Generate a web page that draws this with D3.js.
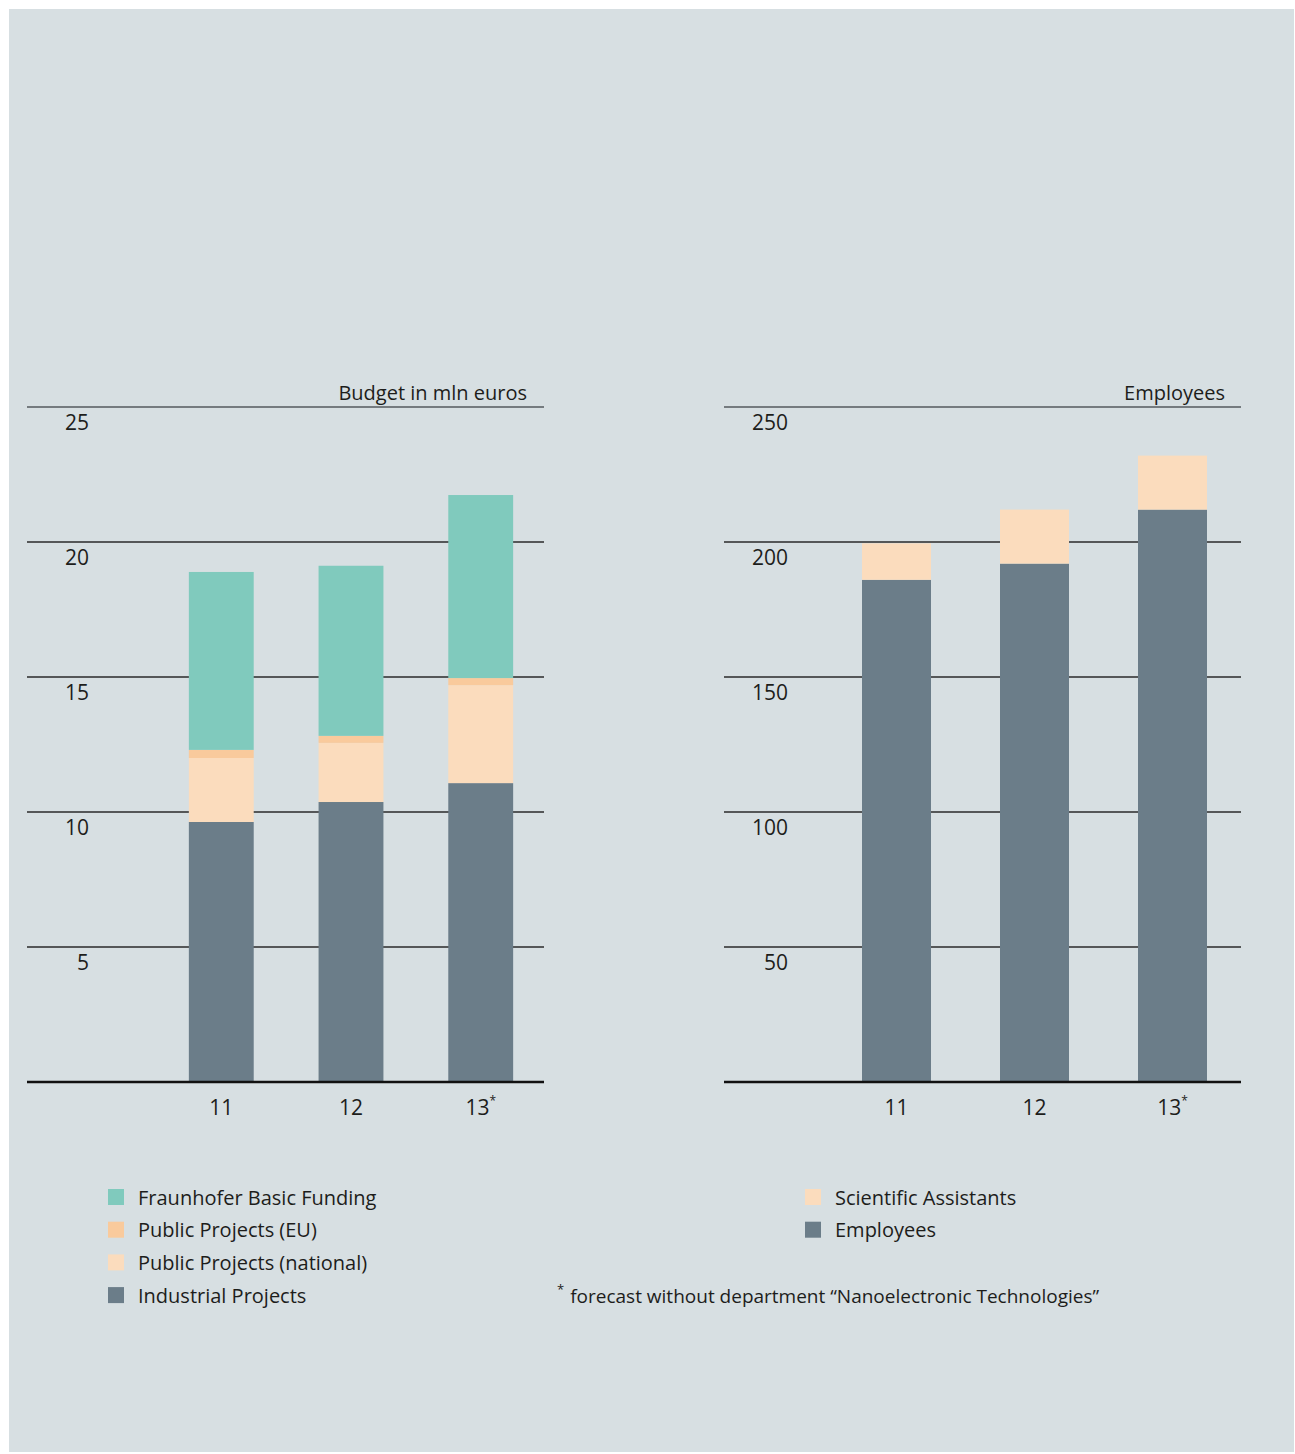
<!DOCTYPE html>
<html>
<head>
<meta charset="utf-8">
<script src="https://cdn.jsdelivr.net/npm/d3@7"></script>
<style>
html,body{margin:0;padding:0;background:#ffffff;}
svg{display:block;}
text{font-family:"Open Sans","Noto Sans",sans-serif;fill:#1d1d1b;}
</style>
</head>
<body>
<svg id="chart" width="1295" height="1454"></svg>
<script>
// ---- Data ----
const years = ["11", "12", "13"];
const yearStars = [false, false, true];

const budgetSeries = ["Industrial Projects", "Public Projects (national)", "Public Projects (EU)", "Fraunhofer Basic Funding"];
const industrialProjects = [9.63, 10.37, 11.07];
const publicNational     = [2.37, 2.19, 3.63];
const publicEU           = [0.30, 0.26, 0.26];
const basicFunding       = [6.59, 6.30, 6.78];
const budgetTicks = [5, 10, 15, 20, 25];

const staffSeries = ["Employees", "Scientific Assistants"];
const employees  = [186, 192, 212];
const scientific = [13.5, 20, 20];
const staffTicks = [50, 100, 150, 200, 250];

const budgetLegend = ["Fraunhofer Basic Funding", "Public Projects (EU)", "Public Projects (national)", "Industrial Projects"];
const staffLegend = ["Scientific Assistants", "Employees"];
const footnote = "forecast without department \u201cNanoelectronic Technologies\u201d";

// ---- Styles ----
const colors = {
  "Fraunhofer Basic Funding": "#80cabd",
  "Public Projects (EU)": "#f9ca9c",
  "Public Projects (national)": "#fbdcbd",
  "Industrial Projects": "#6b7d89",
  "Scientific Assistants": "#fbdcbd",
  "Employees": "#6b7d89"
};

const svg = d3.select("#chart");
svg.append("rect").attr("x", 9).attr("y", 9).attr("width", 1285).attr("height", 1443).attr("fill", "#d7dfe2");

function drawPanel(opt) {
  const g = svg.append("g");
  const y = d3.scaleLinear().domain([0, opt.max]).range([opt.y0, opt.yTop]);
  const x = d3.scaleBand().domain(years).range([opt.bx0, opt.bx1]).paddingInner(opt.padIn).paddingOuter(opt.padOut);

  // gridlines
  g.selectAll("line.grid").data(opt.ticks).join("line")
    .attr("x1", opt.gx0).attr("x2", opt.gx1)
    .attr("y1", d => y(d)).attr("y2", d => y(d))
    .attr("stroke", (d, i) => i === opt.ticks.length - 1 ? "#555a5e" : "#2a2a2a")
    .attr("stroke-width", 1.5);

  // tick labels
  g.selectAll("text.tick").data(opt.ticks).join("text")
    .attr("x", opt.labelX).attr("y", d => y(d) + 23)
    .attr("text-anchor", "end").attr("font-size", 21)
    .text(d => d);

  // title
  g.append("text").attr("x", opt.titleX).attr("y", opt.yTop - 7)
    .attr("text-anchor", "end").attr("font-size", 20).text(opt.title);

  // stacked bars
  const rows = years.map((yr, i) => {
    const r = {year: yr};
    opt.series.forEach((s, k) => r[s] = opt.values[k][i]);
    return r;
  });
  const stacked = d3.stack().keys(opt.series)(rows);
  g.selectAll("g.layer").data(stacked).join("g")
    .attr("fill", d => colors[d.key])
    .selectAll("rect").data(d => d).join("rect")
    .attr("x", d => x(d.data.year))
    .attr("width", x.bandwidth())
    .attr("y", d => y(d[1]))
    .attr("height", d => y(d[0]) - y(d[1]));

  // baseline
  g.append("line").attr("x1", opt.gx0).attr("x2", opt.gx1)
    .attr("y1", y(0)).attr("y2", y(0))
    .attr("stroke", "#111").attr("stroke-width", 2.5);

  // x labels
  const xl = g.selectAll("text.xl").data(years).join("text")
    .attr("x", d => x(d) + x.bandwidth() / 2)
    .attr("y", y(0) + 33)
    .attr("text-anchor", "middle").attr("font-size", 21);
  xl.append("tspan").text(d => d);
  xl.filter((d, i) => yearStars[i]).append("tspan")
    .attr("font-size", 12).attr("dy", -10).text("*");
}

drawPanel({
  max: 25, y0: 1082, yTop: 407, gx0: 27, gx1: 544,
  bx0: 124, bx1: 578, padIn: 0.5, padOut: 0.5,
  ticks: budgetTicks, labelX: 89, titleX: 527, title: "Budget in mln euros",
  series: budgetSeries, values: [industrialProjects, publicNational, publicEU, basicFunding]
});

drawPanel({
  max: 250, y0: 1082, yTop: 407, gx0: 724, gx1: 1241,
  bx0: 793, bx1: 1276, padIn: 0.5, padOut: 0.5,
  ticks: staffTicks, labelX: 788, titleX: 1225, title: "Employees",
  series: staffSeries, values: [employees, scientific]
});

// legends
function legend(items, x0, y0) {
  const lg = svg.append("g");
  const it = lg.selectAll("g").data(items).join("g")
    .attr("transform", (d, i) => `translate(${x0},${y0 + i * 32.7})`);
  it.append("rect").attr("x", 0).attr("y", -8).attr("width", 16).attr("height", 16).attr("fill", d => colors[d]);
  it.append("text").attr("x", 30).attr("y", 7.5).attr("font-size", 20).text(d => d);
}
legend(budgetLegend, 108, 1197);
legend(staffLegend, 805, 1197);

const fn = svg.append("text").attr("x", 557).attr("y", 1303).attr("font-size", 19);
fn.append("tspan").attr("font-size", 13).attr("dy", -9).text("*");
fn.append("tspan").attr("dy", 9).attr("dx", 6).text(footnote);
</script>
</body>
</html>
